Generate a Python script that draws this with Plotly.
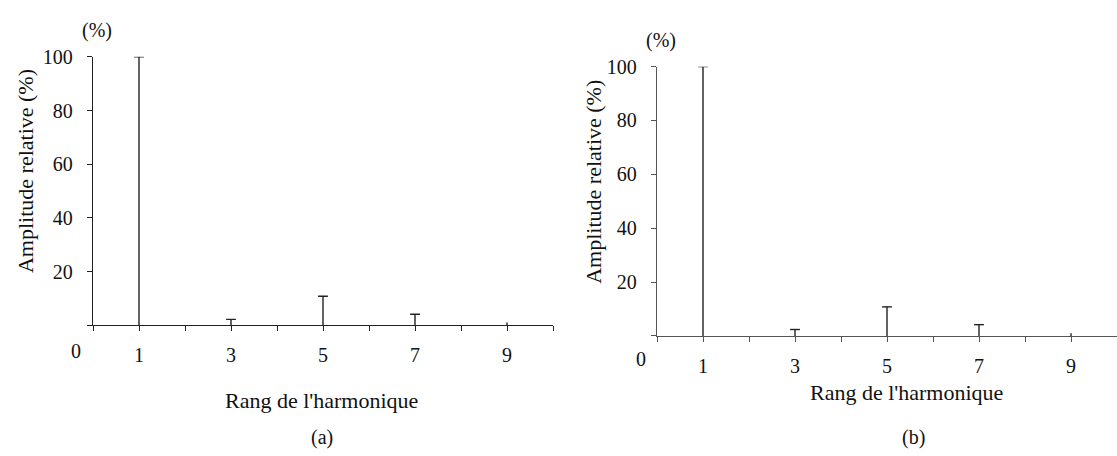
import plotly.graph_objects as go

# Harmonic spectra: relative amplitude (%) per harmonic rank
harmonics = [1, 3, 5, 7, 9]
amp_a = [100, 2.2, 10.8, 4.1, 1.0]
amp_b = [100, 2.4, 10.8, 4.2, 1.0]

x_ticks = list(range(0, 11))
x_ticklabels = [str(k) if k % 2 == 1 else "" for k in x_ticks]
y_ticks = [0, 20, 40, 60, 80, 100]
y_ticklabels = ["" if v == 0 else str(v) for v in y_ticks]

W, H = 1117, 456
FONT = "Liberation Serif"
TXT = "#111111"


def px(x):
    return x / W


def py(y):
    return 1 - y / H


def stems(xs, ys):
    sx, sy = [], []
    for h, v in zip(xs, ys):
        sx += [h, h, None]
        sy += [0, v, None]
    return sx, sy


fig = go.Figure()

panels = [
    dict(amp=amp_a, xa="x", ya="y", stem="#222222"),
    dict(amp=amp_b, xa="x2", ya="y2", stem="#222222"),
]
for p in panels:
    sx, sy = stems(harmonics, p["amp"])
    fig.add_trace(go.Scatter(x=sx, y=sy, mode="lines", xaxis=p["xa"], yaxis=p["ya"],
                             line=dict(color=p["stem"], width=1.4),
                             hoverinfo="skip", showlegend=False))
    caps = [h for h, v in zip(harmonics, p["amp"]) if v >= 1.5]
    capv = [v for v in p["amp"] if v >= 1.5]
    fig.add_trace(go.Scatter(x=caps, y=capv, mode="markers", xaxis=p["xa"], yaxis=p["ya"],
                             marker=dict(symbol="line-ew", size=7,
                                         line=dict(color=p["stem"], width=1.4)),
                             hoverinfo="skip", showlegend=False))

axis_common = dict(showgrid=False, zeroline=False, ticks="outside", ticklen=5,
                   tickwidth=1.2, showline=True, linewidth=1.4,
                   tickfont=dict(family=FONT, size=20, color=TXT))

fig.update_layout(
    width=W, height=H,
    margin=dict(l=0, r=0, t=0, b=0),
    paper_bgcolor="white", plot_bgcolor="white",
    xaxis=dict(domain=[px(93), px(553)], range=[0, 10], anchor="y",
               tickvals=x_ticks, ticktext=x_ticklabels, ticklabelstandoff=7,
               linecolor="#222222", tickcolor="#222222", **axis_common),
    yaxis=dict(domain=[py(322), py(47)], range=[0, 100], anchor="x",
               tickvals=y_ticks, ticktext=y_ticklabels, ticklabelstandoff=10,
               linecolor="#222222", tickcolor="#222222", **axis_common),
    xaxis2=dict(domain=[px(657), px(1117)], range=[0, 10], anchor="y2",
                tickvals=x_ticks, ticktext=x_ticklabels, ticklabelstandoff=7,
                linecolor="#555555", tickcolor="#555555", **axis_common),
    yaxis2=dict(domain=[py(333), py(57)], range=[0, 100], anchor="x2",
                tickvals=y_ticks, ticktext=y_ticklabels, ticklabelstandoff=10,
                linecolor="#555555", tickcolor="#555555", **axis_common),
)

labels = [
    ("(%)", 97, 20, 20, 0),
    ("(%)", 661, 30, 20, 0),
    ("Amplitude relative (%)", 25, 164, 22, -90),
    ("Amplitude relative (%)", 594, 175, 22, -90),
    ("0", 76, 348, 20, 0),
    ("0", 641, 357, 20, 0),
    ("Rang de l'harmonique", 321, 399, 22, 0),
    ("Rang de l'harmonique", 906, 391, 22, 0),
    ("(a)", 322, 437, 20, 0),
    ("(b)", 913, 437, 20, 0),
]
for text, x, y, size, ang in labels:
    fig.add_annotation(text=text, x=px(x), y=py(y), xref="paper", yref="paper",
                       xanchor="center", yanchor="middle", showarrow=False,
                       textangle=ang, font=dict(family=FONT, size=size, color=TXT))

fig.write_html("out.html")
